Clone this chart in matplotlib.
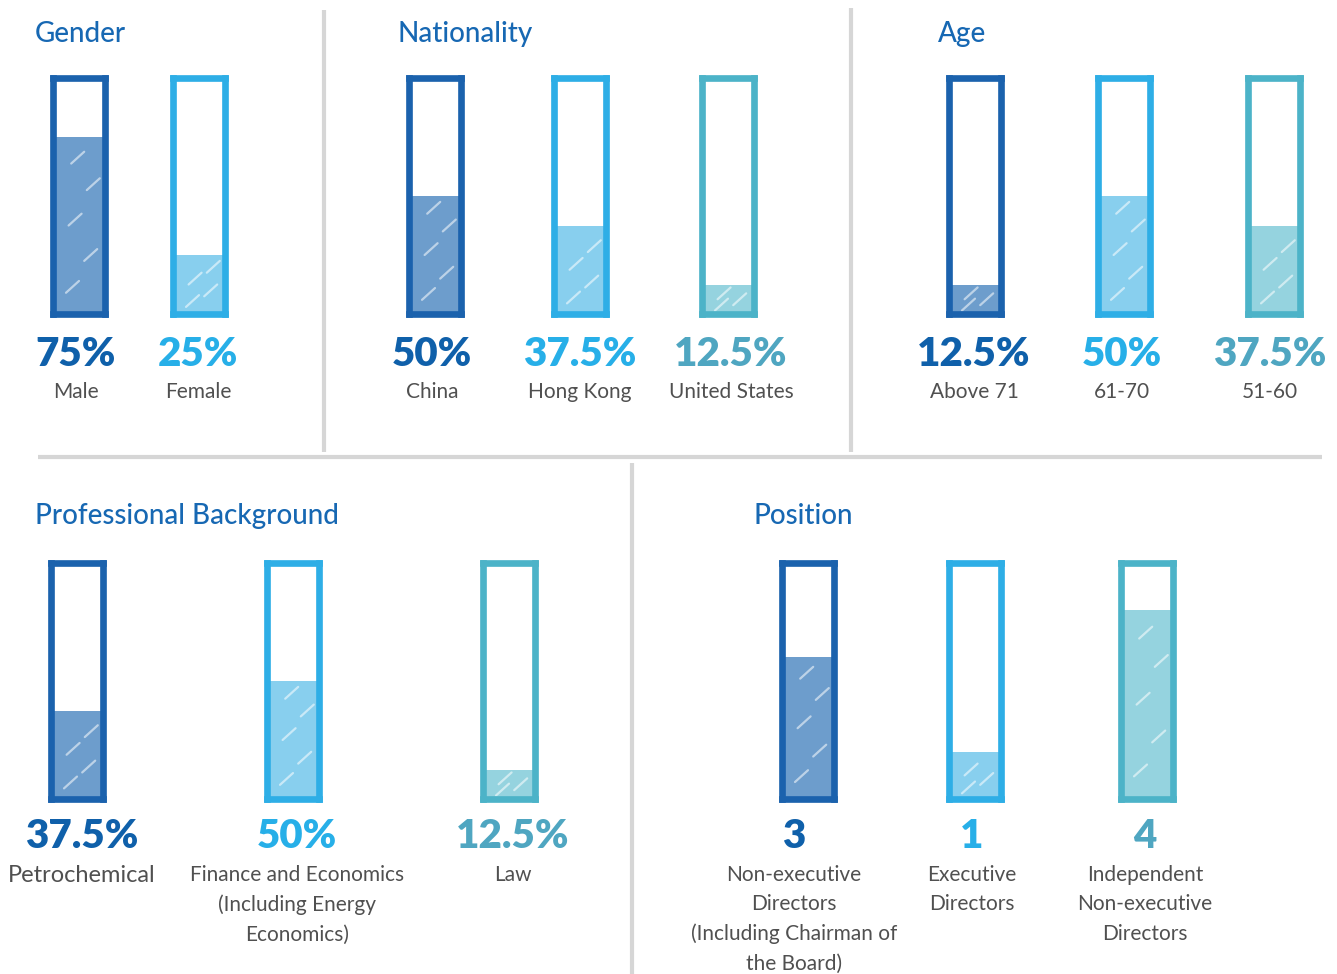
import matplotlib
matplotlib.use("Agg")
import matplotlib.pyplot as plt
import numpy as np

# board composition figures
gender_labels = ["Male", "Female"]
gender_values = [75, 25]

nationality_labels = ["China", "Hong Kong", "United States"]
nationality_values = [50, 37.5, 12.5]

age_labels = ["Above 71", "61-70", "51-60"]
age_values = [12.5, 50, 37.5]

background_labels = ["Petrochemical",
                     "Finance and Economics\n(Including Energy\nEconomics)",
                     "Law"]
background_values = [37.5, 50, 12.5]

position_labels = ["Non-executive\nDirectors\n(Including Chairman of\nthe Board)",
                   "Executive\nDirectors",
                   "Independent\nNon-executive\nDirectors"]
position_counts = [3, 1, 4]
position_scale = 5

# palette: (outline, fill, number text)
palette = [("#1b62ad", "#6d9dcc", "#0f60aa"),
           ("#2eaee6", "#88cfee", "#27afe8"),
           ("#4cb3c8", "#95d3df", "#4fa6c1")]
title_color = "#1768b3"
label_color = "#505050"

W, H = 1337, 974
fig = plt.figure(figsize=(W / 100, H / 100), dpi=100)
bg = fig.add_axes([0, 0, 1, 1])
bg.set_xlim(0, W)
bg.set_ylim(H, 0)
bg.axis("off")

num_font = dict(family=["Lato", "DejaVu Sans"], fontweight="heavy", fontsize=29)
lab_font = dict(family=["Lato", "DejaVu Sans"], fontweight="normal")
title_font = dict(family=["Lato", "DejaVu Sans"], fontweight="medium", fontsize=20)


def draw_tube(cx, top, value, vmax, colors, width=52, height=236):
    edge, fill, _ = colors
    ax = fig.add_axes([(cx - width / 2) / W, 1 - (top + height) / H,
                       width / W, height / H])
    ax.set_xlim(0, 1)
    ax.set_ylim(0, vmax)
    ax.bar(0.5, value, width=1.0, color=fill, edgecolor="none")
    # a few light strokes for the crayon look
    for fx, fy in [(0.25, 0.12), (0.6, 0.3), (0.3, 0.5), (0.65, 0.7), (0.35, 0.85)]:
        y0 = fy * value
        if y0 + 0.06 * vmax < value:
            ax.plot([fx, fx + 0.25], [y0, y0 + 0.05 * vmax],
                    color="white", alpha=0.55, lw=1.6,
                    solid_capstyle="round")
    for s in ax.spines.values():
        s.set_color(edge)
        s.set_linewidth(4.8)
    ax.set_xticks([])
    ax.set_yticks([])
    return ax


def draw_group(title, title_x, title_y, centers, values, labels, top,
               num_y, lab_y, vmax=100, fmt="{:g}%", label_centers=None,
               label_sizes=None):
    bg.text(title_x, title_y, title, color=title_color, ha="left",
            va="center", **title_font)
    if label_centers is None:
        label_centers = centers
    if label_sizes is None:
        label_sizes = [15] * len(values)
    for i, (cx, lx, v, lab, fs) in enumerate(zip(centers, label_centers,
                                                  values, labels, label_sizes)):
        colors = palette[i % 3]
        draw_tube(cx, top, v, vmax, colors)
        bg.text(lx, num_y, fmt.format(v), color=colors[2], ha="center",
                va="center", **num_font)
        bg.text(lx, lab_y, lab, color=label_color, ha="center", va="top",
                linespacing=1.58, fontsize=fs, **lab_font)


# top row
draw_group("Gender", 35, 34, [79, 199], gender_values, gender_labels,
           78, 354, 382, label_centers=[76, 198])
draw_group("Nationality", 397, 34, [435, 580, 728], nationality_values,
           nationality_labels, 78, 354, 382, label_centers=[432, 580, 731])
draw_group("Age", 938, 34, [975, 1124, 1274], age_values, age_labels,
           78, 354, 382, label_centers=[974, 1122, 1270])

# bottom row
draw_group("Professional Background", 35, 516, [77, 293, 509],
           background_values, background_labels, 563, 836, 865,
           label_centers=[82, 297, 513], label_sizes=[17, 15, 15])
draw_group("Position", 753, 516, [808, 975, 1147], position_counts,
           position_labels, 563, 836, 865, vmax=position_scale, fmt="{:d}",
           label_centers=[794, 972, 1145])

# panel separators
sep = dict(color="#d6d6d6", lw=3, solid_capstyle="butt")
bg.plot([324, 324], [10, 452], **sep)
bg.plot([851, 851], [8, 452], **sep)
bg.plot([38, 1322], [457, 457], **sep)
bg.plot([632, 632], [463, 974], **sep)

fig.savefig("out.png", dpi=100)
